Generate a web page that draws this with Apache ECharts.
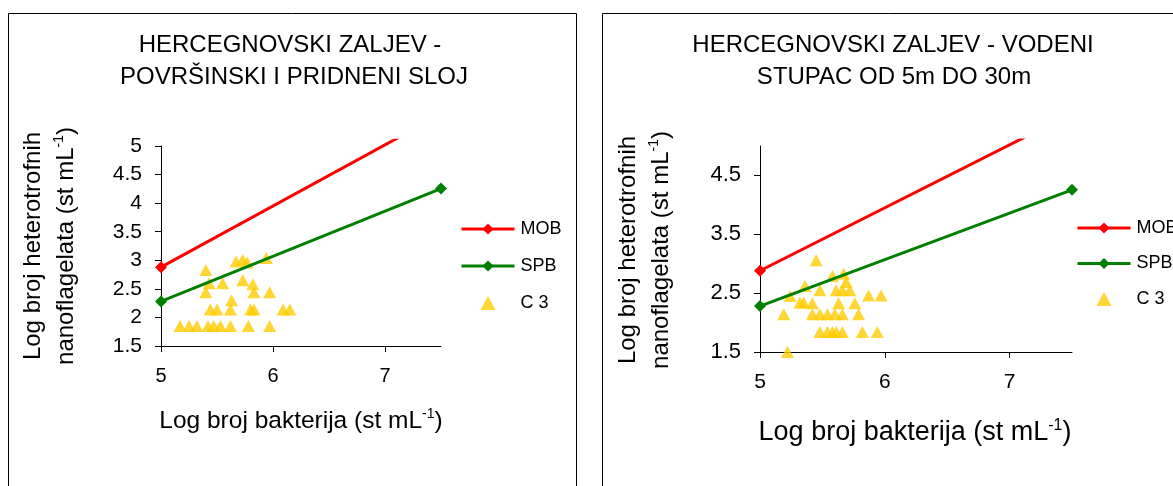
<!DOCTYPE html>
<html>
<head>
<meta charset="utf-8">
<script src="https://cdn.jsdelivr.net/npm/echarts@6/dist/echarts.min.js"></script>
<style>
  html, body { margin: 0; padding: 0; background: #fff; }
  #chart { width: 1173px; height: 486px; }
</style>
</head>
<body>
<div id="chart"></div>
<script>
// ---------------- DATA ----------------
const lineX = [5, 7.5];              // Log bacteria at line ends
const mobY = [2.88, 5.555];           // MOB line
const spbY = [2.28, 4.255];           // SPB line

const leftC3X = [5.17, 5.25, 5.32, 5.42, 5.47, 5.53, 5.62, 5.78, 5.97,
                 5.44, 5.50, 5.62, 5.80, 5.83, 6.09, 6.15,
                 5.63,
                 5.40, 5.83, 5.97,
                 5.43, 5.55, 5.73, 5.82,
                 5.40,
                 5.67, 5.73, 5.77, 5.94];
const leftC3Y = [1.85, 1.85, 1.85, 1.85, 1.85, 1.85, 1.85, 1.85, 1.85,
                 2.14, 2.14, 2.14, 2.14, 2.14, 2.14, 2.14,
                 2.30,
                 2.44, 2.44, 2.44,
                 2.60, 2.60, 2.65, 2.58,
                 2.83,
                 2.98, 3.01, 2.96, 3.04];

const rightC3X = [5.22, 5.19, 5.24, 5.32, 5.35, 5.36, 5.45, 5.42, 5.48,
                  5.42, 5.48, 5.54, 5.60, 5.66,
                  5.48, 5.54, 5.58, 5.61, 5.66,
                  5.58, 5.63, 5.61, 5.66, 5.67, 5.69, 5.72, 5.76, 5.79, 5.82, 5.87, 5.94, 5.97];
const rightC3Y = [1.50, 2.14, 2.45, 2.34, 2.34, 2.62, 3.06, 2.33, 2.55,
                  2.14, 2.14, 2.14, 2.14, 2.14,
                  1.84, 1.84, 1.84, 1.84, 1.84,
                  2.79, 2.33, 2.55, 2.55, 2.83, 2.69, 2.55, 2.33, 2.14, 1.84, 2.46, 1.84, 2.46];

const xTicks = [5, 6, 7];
const leftYTicks = [1.5, 2, 2.5, 3, 3.5, 4, 4.5, 5];
const rightYTicks = [1.5, 2.5, 3.5, 4.5];

const seriesNames = ['MOB', 'SPB', 'C 3'];
const leftTitle = ['HERCEGNOVSKI ZALJEV -', 'POVRŠINSKI I PRIDNENI SLOJ'];
const rightTitle = ['HERCEGNOVSKI ZALJEV - VODENI', 'STUPAC OD 5m DO 30m'];
const yTitle = ['Log broj heterotrofnih', 'nanoflagelata (st mL', '-1', ')'];
const xTitle = ['Log broj bakterija (st mL', '-1', ')'];

// ---------------- LAYOUT ----------------
const FONT = '"Liberation Sans", Arial, Helvetica, sans-serif';
const zip = (xs, ys) => xs.map((x, i) => [x, ys[i]]);

function gridPair(left, top, width, height, yMin, yMax) {
  const unit = height / (yMax - yMin);
  const ext = 0.1 * unit;
  return [
    { left: left, top: top, width: width, height: height },
    { left: left, top: top - ext, width: width, height: height + ext }
  ];
}
const gL = gridPair(161, 146, 280, 200, 1.5, 5);
const gR = gridPair(760, 146, 312, 206, 1.5, 5);

function visX(gi, fs, margin) {
  return {
    gridIndex: gi, type: 'value', min: 5, max: 7.5,
    axisLine: { show: true, onZero: false, lineStyle: { color: '#000', width: 1 } },
    axisTick: { show: true, length: 6, customValues: xTicks, lineStyle: { color: '#000', width: 1 } },
    axisLabel: { customValues: xTicks, margin: margin, fontSize: fs, color: '#000', fontFamily: FONT },
    splitLine: { show: false }
  };
}
function visY(gi, ticks, fs, margin) {
  return {
    gridIndex: gi, type: 'value', min: 1.5, max: 5,
    axisLine: { show: true, onZero: false, lineStyle: { color: '#000', width: 1 } },
    axisTick: { show: true, length: 6, customValues: ticks, lineStyle: { color: '#000', width: 1 } },
    axisLabel: { customValues: ticks, margin: margin, fontSize: fs, color: '#000', fontFamily: FONT },
    splitLine: { show: false }
  };
}
function hidX(gi) { return { gridIndex: gi, type: 'value', min: 5, max: 7.5, show: false }; }
function hidY(gi) { return { gridIndex: gi, type: 'value', min: 1.5, max: 5.1, show: false }; }

function panelSeries(gi, c3x, c3y) {
  return [
    { name: seriesNames[0], type: 'line', xAxisIndex: gi, yAxisIndex: gi, data: zip(lineX, mobY),
      symbol: 'diamond', symbolSize: 12, showSymbol: true, clip: true,
      itemStyle: { color: '#FF0000' }, lineStyle: { color: '#FF0000', width: 3 } },
    { name: seriesNames[1], type: 'line', xAxisIndex: gi, yAxisIndex: gi, data: zip(lineX, spbY),
      symbol: 'diamond', symbolSize: 12, showSymbol: true, clip: true,
      itemStyle: { color: '#008000' }, lineStyle: { color: '#008000', width: 3 } },
    { name: seriesNames[2], type: 'scatter', xAxisIndex: gi, yAxisIndex: gi, data: zip(c3x, c3y),
      symbol: 'triangle', symbolSize: [13, 12], clip: false,
      itemStyle: { color: '#FFCC00' } }
  ];
}

function txt(x, y, text, fs, rot) {
  return { type: 'text', x: x, y: y, rotation: rot || 0, silent: true,
    style: { text: text, fontSize: fs, fontFamily: FONT, fill: '#000', align: 'center', verticalAlign: 'middle' } };
}
function supTxt(x, y, parts, fs, rot) {
  return { type: 'text', x: x, y: y, rotation: rot || 0, silent: true,
    style: {
      text: '{a|' + parts[0] + '}{s|' + parts[1] + '}{a|' + parts[2] + '}',
      fill: '#000', align: 'center', verticalAlign: 'middle',
      rich: {
        a: { fontSize: fs, fontFamily: FONT, fill: '#000', lineHeight: fs * 1.15 },
        s: { fontSize: Math.round(fs * 0.58), fontFamily: FONT, fill: '#000', verticalAlign: 'top', lineHeight: fs * 1.15 }
      }
    } };
}

const TRI = 'path://M0,12L6.5,0L13,12Z';
function legendAt(left, top, gap) {
  return {
    data: [
      { name: seriesNames[0] },
      { name: seriesNames[1] },
      { name: seriesNames[2], icon: TRI }
    ],
    orient: 'vertical', left: left, top: top, padding: 0,
    itemWidth: 53, itemHeight: 14, itemGap: gap, selectedMode: false, symbolKeepAspect: true,
    lineStyle: { width: 3 },
    textStyle: { fontSize: 18, fontFamily: FONT, color: '#000', padding: [0, 0, 0, 1] }
  };
}

const option = {
  animation: false,
  backgroundColor: '#fff',
  grid: [gL[0], gL[1], gR[0], gR[1]],
  xAxis: [visX(0, 20, 20), hidX(1), visX(2, 21, 20), hidX(3)],
  yAxis: [visY(0, leftYTicks, 21, 19), hidY(1), visY(2, rightYTicks, 22, 19), hidY(3)],
  legend: [legendAt(460, 220, 19), legendAt(1076, 219, 17.5)],
  series: [].concat(panelSeries(1, leftC3X, leftC3Y), panelSeries(3, rightC3X, rightC3Y)),
  graphic: [
    { type: 'rect', z: -10, silent: true, shape: { x: 8.5, y: 13.5, width: 568, height: 490 },
      style: { fill: 'none', stroke: '#000', lineWidth: 1 } },
    { type: 'rect', z: -10, silent: true, shape: { x: 602.5, y: 13.5, width: 600, height: 490 },
      style: { fill: 'none', stroke: '#000', lineWidth: 1 } },
    txt(290, 45, leftTitle[0], 24),
    txt(294, 77, leftTitle[1], 24),
    txt(893, 45, rightTitle[0], 24),
    txt(894, 77, rightTitle[1], 24),
    txt(33, 246, yTitle[0], 24, Math.PI / 2),
    supTxt(66, 246, [yTitle[1], yTitle[2], yTitle[3]], 24, Math.PI / 2),
    txt(628, 250, yTitle[0], 24, Math.PI / 2),
    supTxt(661, 250, [yTitle[1], yTitle[2], yTitle[3]], 24, Math.PI / 2),
    supTxt(301, 421, xTitle, 24.5),
    supTxt(915, 433, xTitle, 27)
  ]
};

const chart = echarts.init(document.getElementById('chart'), null, { renderer: 'canvas' });
chart.setOption(option);
</script>
</body>
</html>
